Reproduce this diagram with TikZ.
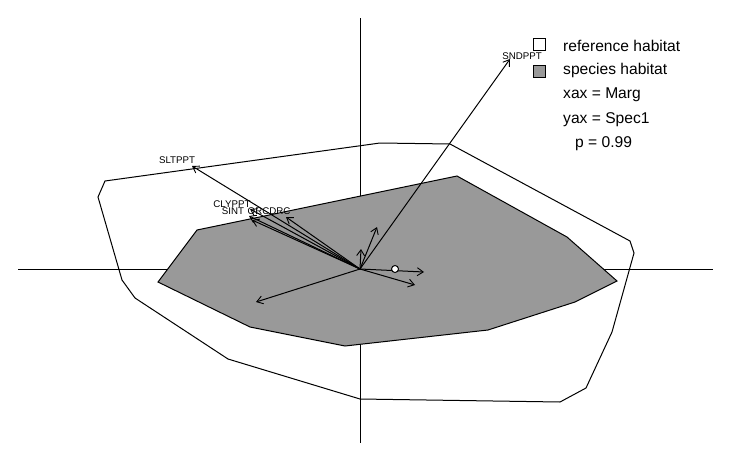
\documentclass[tikz,border=0pt]{standalone}
\usepackage{fontspec}
\setmainfont{Liberation Sans}
\usetikzlibrary{arrows.meta}
\tikzset{
  axisline/.style={line width=1pt},
  refpoly/.style={line width=1pt},
  sppoly/.style={line width=1pt, fill=spgray},
  vec/.style={line width=1pt, -{Straight Barb[length=6pt,width=8pt,line width=0.9pt]}},
  vlabel/.style={font=\fontsize{9.7}{10}\selectfont, inner sep=0pt, text=black},
  legtext/.style={font=\fontsize{15.6}{17}\selectfont, inner sep=0pt, anchor=west},
  legbox/.style={line width=1pt}
}
\definecolor{spgray}{HTML}{999999}
\begin{document}
\begin{tikzpicture}[x=1pt,y=-1pt]
\useasboundingbox (0,0) rectangle (733,463);
% axes
\coordinate (vt) at (360,18);
\coordinate (vb) at (360,443);
\coordinate (hl) at (18,269);
\coordinate (hr) at (713,269);
\draw[axisline] (vt) -- (vb);
\draw[axisline] (hl) -- (hr);
% reference habitat
\draw[refpoly] (105,181) -- (380,143) -- (450,144) -- (630,241) -- (634,253) -- (612,332) -- (586,388) -- (560,402) -- (360,399) -- (228,359) -- (135,298) -- (122,280) -- (98,197) -- cycle;
% species habitat
\draw[sppoly] (158,282) -- (197,230) -- (457,176) -- (567,237) -- (617,281) -- (575,302) -- (488,330) -- (345,346) -- (250,327) -- cycle;
% vectors
\coordinate (O) at (360,269);
\coordinate (eSND) at (510,59);
\coordinate (eSLT) at (192,166);
\coordinate (eCLY) at (250,209);
\coordinate (eSIN) at (249,216);
\coordinate (eX) at (252,220);
\coordinate (eORC) at (286,217);
\coordinate (eUp) at (361,249);
\coordinate (eUR) at (377,227);
\coordinate (eR) at (424,272);
\coordinate (eRD) at (415,285);
\coordinate (eDL) at (256,302);
\foreach \e in {eSND,eSLT,eCLY,eSIN,eX,eORC,eUp,eUR,eR,eRD,eDL}
  \draw[vec] (O) -- (\e);
\node[circle, draw, fill=white, line width=1pt, minimum size=7pt, inner sep=0pt] (pt) at (395,269) {};
% labels
\node[vlabel] (lSND) at (522,56) {SNDPPT};
\node[vlabel] (lSLT) at (177,160) {SLTPPT};
\node[vlabel] (lCLY) at (232,204) {CLYPPT};
\node[vlabel] (lSIN) at (233,211) {SINT};
\node[vlabel] (lORC) at (269,211) {ORCDRC};
% legend
\node[legbox, draw, fill=white, minimum size=12pt, inner sep=0pt] (b1) at (539,44) {};
\node[legbox, draw, fill=spgray, minimum size=12pt, inner sep=0pt] (b2) at (539,71) {};
\node[legtext] (t1) at (563,46) {reference habitat};
\node[legtext] (t2) at (563,70) {species habitat};
\node[legtext] (t3) at (563,95) {xax = Marg};
\node[legtext] (t4) at (563,120) {yax = Spec1};
\node[legtext] (t5) at (575,144) {p = 0.99};
\end{tikzpicture}
\end{document}
